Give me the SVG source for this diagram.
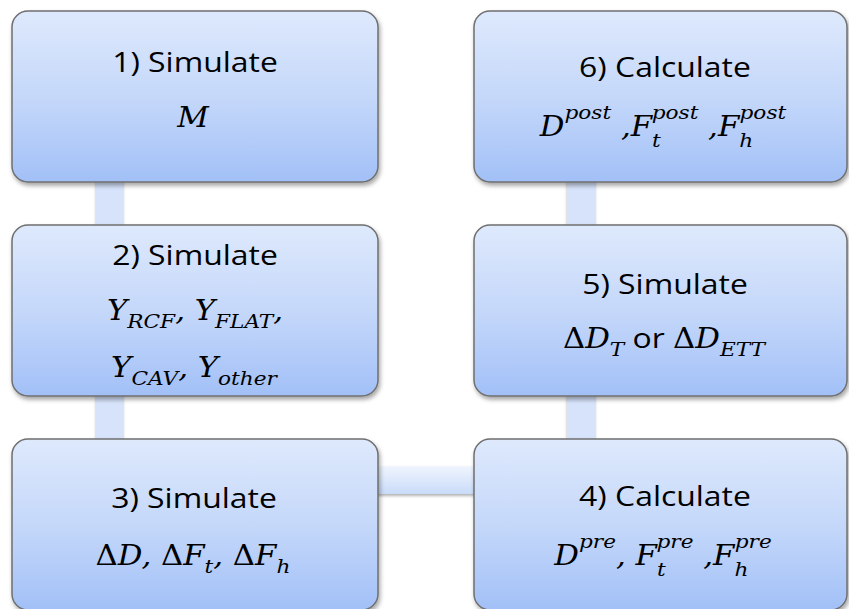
<svg xmlns="http://www.w3.org/2000/svg" width="849" height="609" viewBox="0 0 849 609">
<defs>
<linearGradient id="boxg" x1="0" y1="0" x2="0" y2="1">
<stop offset="0" stop-color="#dee9fc"/>
<stop offset="0.5" stop-color="#c5d8fa"/>
<stop offset="1" stop-color="#a2c0f7"/>
</linearGradient>
<linearGradient id="hbar" x1="0" y1="0" x2="0" y2="1">
<stop offset="0" stop-color="#f0f5fe"/>
<stop offset="1" stop-color="#c9dbf9"/>
</linearGradient>
<filter id="sh" x="-10%" y="-10%" width="120%" height="125%">
<feDropShadow dx="1.5" dy="3" stdDeviation="2" flood-color="#000" flood-opacity="0.35"/>
</filter>
<filter id="sh2" x="-20%" y="-20%" width="140%" height="150%">
<feDropShadow dx="0" dy="2" stdDeviation="1.5" flood-color="#000" flood-opacity="0.3"/>
</filter>
</defs>
<style>
.box{fill:url(#boxg);stroke:#6f6f6f;stroke-width:1.5;filter:url(#sh)}
.t{font-family:"Open Sans","Noto Sans",sans-serif;font-size:28px;fill:#000;text-anchor:middle}
.m{font-family:"DejaVu Serif",serif;font-style:italic;font-size:27px;fill:#000;text-anchor:middle}
.s{font-size:19px}
.u{font-style:normal}
.or{font-family:"Open Sans","Noto Sans",sans-serif;font-style:normal;font-size:28px}
.bar{fill:#d7e3fb;filter:url(#sh2)}
</style>
<rect width="849" height="609" fill="#fff"/>
<g id="connectors">
<rect class="bar" x="96" y="170" width="27" height="290"/>
<rect class="bar" x="567" y="170" width="28" height="290"/>
<rect x="370" y="466" width="110" height="28" fill="url(#hbar)" filter="url(#sh2)"/>
</g>
<g id="node1">
<rect class="box" x="12" y="11" width="366" height="171" rx="16"/>
<text class="t" transform="translate(195,72) scale(1.14,1)">1) Simulate</text>
<text class="m" transform="translate(193,127) scale(1.14,1)">M</text>
</g>
<g id="node2">
<rect class="box" x="12" y="225" width="366" height="171" rx="16"/>
<text class="t" transform="translate(195,265) scale(1.14,1)">2) Simulate</text>
<text class="m" transform="translate(195,320) scale(1.14,1)">Y<tspan class="s" dy="8">RCF</tspan><tspan dy="-8">, Y</tspan><tspan class="s" dy="8">FLAT</tspan><tspan dy="-8">,</tspan></text>
<text class="m" transform="translate(194,377) scale(1.14,1)">Y<tspan class="s" dy="8">CAV</tspan><tspan dy="-8">, Y</tspan><tspan class="s" dy="8">other</tspan></text>
</g>
<g id="node3">
<rect class="box" x="12" y="439" width="366" height="171" rx="16"/>
<text class="t" transform="translate(194,508) scale(1.14,1)">3) Simulate</text>
<text class="m" transform="translate(193,565) scale(1.14,1)"><tspan class="u">Δ</tspan>D, <tspan class="u">Δ</tspan>F<tspan class="s" dy="8">t</tspan><tspan dy="-8">, </tspan><tspan class="u">Δ</tspan>F<tspan class="s" dy="8">h</tspan></text>
</g>
<g id="node4">
<rect class="box" x="474" y="439" width="373" height="171" rx="16"/>
<text class="t" transform="translate(665,506) scale(1.14,1)">4) Calculate</text>
<text class="m" transform="translate(663,565) scale(1.14,1)">D<tspan class="s" dy="-17">pre</tspan><tspan dy="17">, F</tspan><tspan class="s" dy="11">t</tspan><tspan class="s" dx="-8" dy="-28">pre</tspan><tspan dy="17"> ,F</tspan><tspan class="s" dy="11">h</tspan><tspan class="s" dx="-12" dy="-28">pre</tspan></text>
</g>
<g id="node5">
<rect class="box" x="474" y="225" width="373" height="171" rx="16"/>
<text class="t" transform="translate(665,294) scale(1.14,1)">5) Simulate</text>
<text class="m" transform="translate(664,348) scale(1.14,1)"><tspan class="u">Δ</tspan>D<tspan class="s" dy="8">T</tspan><tspan class="or" dy="-8"> or </tspan><tspan class="u">Δ</tspan>D<tspan class="s" dy="8">ETT</tspan></text>
</g>
<g id="node6">
<rect class="box" x="474" y="11" width="373" height="171" rx="16"/>
<text class="t" transform="translate(665,77) scale(1.14,1)">6) Calculate</text>
<text class="m" transform="translate(663,136) scale(1.14,1)">D<tspan class="s" dy="-17">post</tspan><tspan dy="17"> ,F</tspan><tspan class="s" dy="11">t</tspan><tspan class="s" dx="-8" dy="-28">post</tspan><tspan dy="17"> ,F</tspan><tspan class="s" dy="11">h</tspan><tspan class="s" dx="-12" dy="-28">post</tspan></text>
</g>
</svg>
